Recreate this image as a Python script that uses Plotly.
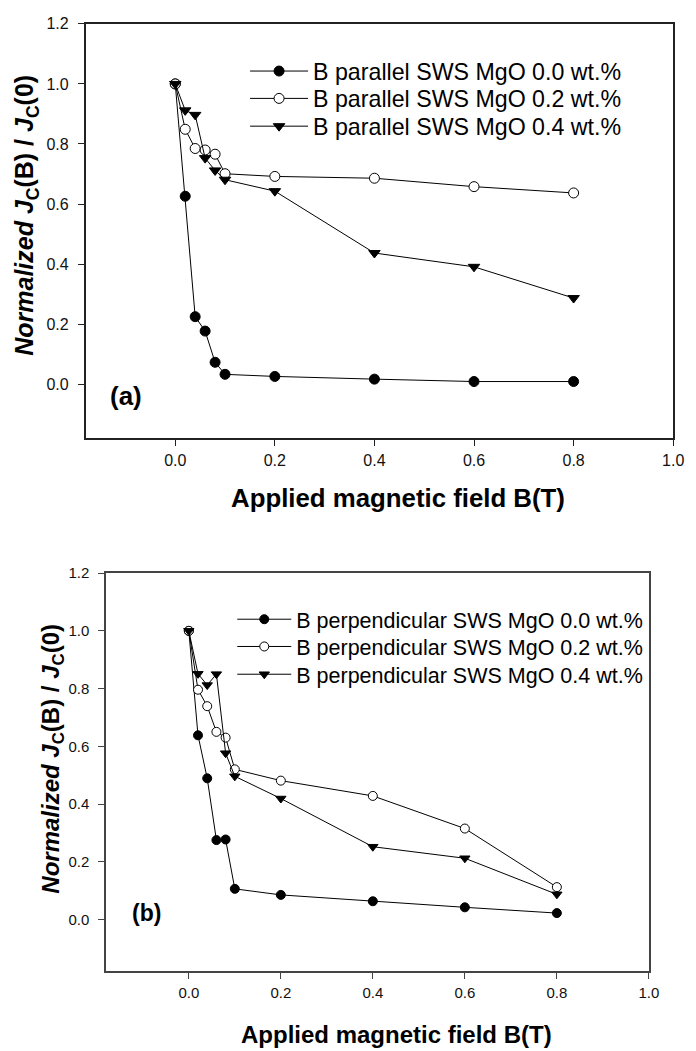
import plotly.graph_objects as go

# ---------------- data ----------------
field_T = [0.0, 0.02, 0.04, 0.06, 0.08, 0.1, 0.2, 0.4, 0.6, 0.8]

par_mgo00 = [1.0, 0.626, 0.225, 0.177, 0.073, 0.033, 0.026, 0.017, 0.009, 0.009]
par_mgo02 = [1.0, 0.849, 0.785, 0.780, 0.766, 0.701, 0.692, 0.686, 0.658, 0.637]
par_mgo04 = [1.0, 0.912, 0.897, 0.753, 0.712, 0.681, 0.643, 0.437, 0.391, 0.287]

perp_mgo00 = [1.0, 0.638, 0.489, 0.275, 0.277, 0.106, 0.085, 0.063, 0.042, 0.022]
perp_mgo02 = [1.0, 0.796, 0.739, 0.650, 0.630, 0.520, 0.481, 0.428, 0.315, 0.112]
perp_mgo04 = [1.0, 0.851, 0.812, 0.850, 0.576, 0.496, 0.419, 0.252, 0.212, 0.087]

par_names = ["B parallel SWS MgO 0.0 wt.%", "B parallel SWS MgO 0.2 wt.%",
             "B parallel SWS MgO 0.4 wt.%"]
perp_names = ["B perpendicular SWS MgO 0.0 wt.%", "B perpendicular SWS MgO 0.2 wt.%",
              "B perpendicular SWS MgO 0.4 wt.%"]

x_ticks = [0.0, 0.2, 0.4, 0.6, 0.8, 1.0]
y_ticks = [0.0, 0.2, 0.4, 0.6, 0.8, 1.0, 1.2]

FONT = "Arial, Liberation Sans, sans-serif"
W, H = 696, 1051

def px_x(p):
    return p / W

def px_y(p):
    return 1 - p / H

styles = [
    dict(symbol="circle", color="black", line=dict(color="black", width=1)),
    dict(symbol="circle", color="white", line=dict(color="black", width=1)),
    dict(symbol="triangle-down", color="black", line=dict(color="black", width=1)),
]

fig = go.Figure()

top_series = [par_mgo00, par_mgo02, par_mgo04]
bot_series = [perp_mgo00, perp_mgo02, perp_mgo04]

for i, (ys, nm) in enumerate(zip(top_series, par_names)):
    fig.add_trace(go.Scatter(
        x=field_T, y=ys, name=nm, mode="lines+markers",
        line=dict(color="black", width=1),
        marker=dict(size=10, **styles[i]),
        xaxis="x", yaxis="y", legend="legend" if i == 0 else f"legend{i+1}",
        showlegend=True,
    ))

for i, (ys, nm) in enumerate(zip(bot_series, perp_names)):
    fig.add_trace(go.Scatter(
        x=field_T, y=ys, name=nm, mode="lines+markers",
        line=dict(color="black", width=1),
        marker=dict(size=9, **styles[i]),
        xaxis="x2", yaxis="y2", legend=f"legend{i+4}",
        showlegend=True,
    ))

def axis_common(tickfont_size, linecolor):
    return dict(
        showline=True, mirror=True, linecolor=linecolor, linewidth=1.5,
        ticks="outside", ticklen=6, tickwidth=1, tickcolor=linecolor,
        showgrid=False, zeroline=False,
        tickfont=dict(family=FONT, size=tickfont_size, color="#111"),
        tickformat=".1f",
    )

layout = dict(
    width=W, height=H,
    margin=dict(l=0, r=0, t=0, b=0),
    paper_bgcolor="white", plot_bgcolor="white",
    font=dict(family=FONT, color="black"),
    showlegend=True,
    xaxis=dict(domain=[px_x(87), px_x(684)], range=[-0.18, 1.0], anchor="y",
               tickvals=x_ticks, ticklabelstandoff=1, **axis_common(16, "#222")),
    yaxis=dict(domain=[px_y(433), px_y(15)], range=[-0.18, 1.2], anchor="x",
               tickvals=y_ticks, ticklabelstandoff=6, **axis_common(16, "#222")),
    xaxis2=dict(domain=[px_x(107.7), px_x(659.3)], range=[-0.18, 1.0], anchor="y2",
                tickvals=x_ticks, ticklabelstandoff=1, **axis_common(15, "#444")),
    yaxis2=dict(domain=[px_y(970.7), px_y(569)], range=[-0.18, 1.2], anchor="x2",
                tickvals=y_ticks, ticklabelstandoff=6, **axis_common(15, "#444")),
)

# one legend per entry so that each row sits exactly where the reference has it
top_rows = [63.0, 90.6, 118.6]
bot_rows = [615.5, 643.0, 671.0]
for k, yrow in enumerate(top_rows):
    key = "legend" if k == 0 else f"legend{k+1}"
    layout[key] = dict(x=px_x(249), y=px_y(yrow), xanchor="left", yanchor="middle",
                       bgcolor="rgba(0,0,0,0)", borderwidth=0, itemwidth=58,
                       font=dict(family=FONT, size=23.2, color="black"))
for k, yrow in enumerate(bot_rows):
    key = f"legend{k+4}"
    layout[key] = dict(x=px_x(236), y=px_y(yrow), xanchor="left", yanchor="middle",
                       bgcolor="rgba(0,0,0,0)", borderwidth=0, itemwidth=54,
                       font=dict(family=FONT, size=21.5, color="black"))

ytitle = "<b><i>Normalized J</i><sub>C</sub>(B) / <i>J</i><sub>C</sub>(0)</b>"
xtitle = "<b>Applied magnetic field B(T)</b>"

annotations = [
    dict(text=ytitle, x=px_x(27), y=px_y(208), xref="paper", yref="paper",
         xanchor="center", yanchor="middle", textangle=-90, showarrow=False,
         font=dict(family=FONT, size=25, color="black")),
    dict(text=xtitle, x=px_x(404), y=px_y(493), xref="paper", yref="paper",
         xanchor="center", yanchor="middle", showarrow=False,
         font=dict(family=FONT, size=25.8, color="black")),
    dict(text="<b>(a)</b>", x=px_x(110), y=px_y(390), xref="paper", yref="paper",
         xanchor="left", yanchor="middle", showarrow=False,
         font=dict(family=FONT, size=26, color="black")),
    dict(text=ytitle, x=px_x(53), y=px_y(756), xref="paper", yref="paper",
         xanchor="center", yanchor="middle", textangle=-90, showarrow=False,
         font=dict(family=FONT, size=24, color="black")),
    dict(text=xtitle, x=px_x(403), y=px_y(1034), xref="paper", yref="paper",
         xanchor="center", yanchor="middle", showarrow=False,
         font=dict(family=FONT, size=24, color="black")),
    dict(text="<b>(b)</b>", x=px_x(132), y=px_y(912), xref="paper", yref="paper",
         xanchor="left", yanchor="middle", showarrow=False,
         font=dict(family=FONT, size=23, color="black")),
]
layout["annotations"] = annotations

fig.update_layout(**layout)
fig.write_html("out.html")
